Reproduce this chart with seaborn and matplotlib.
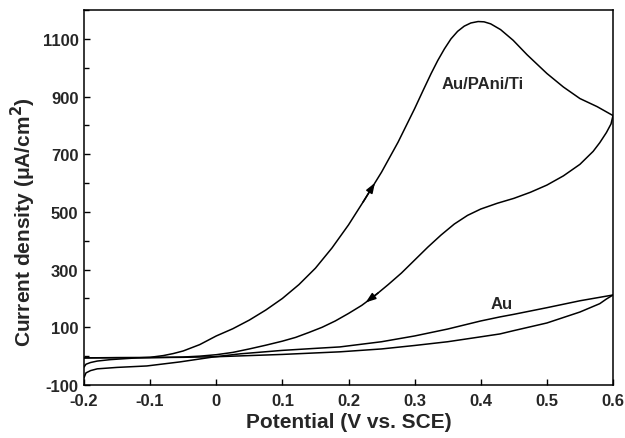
import numpy as np
import pandas as pd
import matplotlib
matplotlib.use("Agg")
import matplotlib.pyplot as plt
import seaborn as sns
from matplotlib.ticker import FixedLocator

# ---- data ----
pani_fwd_x = [-0.2, -0.197, -0.19, -0.18, -0.16, -0.14, -0.12, -0.1, -0.08, -0.065, -0.05, -0.025,
              0.0, 0.025, 0.05, 0.075, 0.1, 0.125, 0.15, 0.175, 0.2, 0.225, 0.25, 0.275, 0.3,
              0.313, 0.325, 0.335, 0.345, 0.355, 0.365, 0.375, 0.385, 0.396, 0.405, 0.415,
              0.43, 0.449, 0.47, 0.5, 0.525, 0.55, 0.576, 0.6]
pani_fwd_y = [-38, -28, -22, -17, -12, -9, -6, -4, 2, 9, 18, 40,
              70, 95, 125, 160, 200, 248, 305, 375, 455, 545, 638, 742, 858,
              922, 980, 1025, 1065, 1100, 1126, 1144, 1155, 1160, 1159, 1152,
              1132, 1095, 1045, 980, 933, 893, 865, 834]

pani_rev_x = [0.6, 0.597, 0.59, 0.58, 0.57, 0.55, 0.525, 0.5, 0.475, 0.45, 0.425, 0.4, 0.38,
              0.36, 0.34, 0.32, 0.3, 0.28, 0.26, 0.24, 0.22, 0.2, 0.18, 0.16, 0.14, 0.12,
              0.1, 0.075, 0.05, 0.025, 0.0, -0.025, -0.05, -0.1, -0.15, -0.2]
pani_rev_y = [834, 805, 775, 740, 710, 665, 625, 593, 568, 547, 530, 510, 488,
              458, 420, 378, 333, 288, 248, 210, 176, 148, 122, 100, 82, 65,
              52, 38, 25, 13, 5, 0, -3, -5, -5, -6]

au_fwd_x = [-0.2, -0.197, -0.19, -0.18, -0.15, -0.105, -0.055, -0.005, 0.036, 0.1, 0.15, 0.187,
            0.25, 0.3, 0.35, 0.4, 0.429, 0.45, 0.5, 0.55, 0.6]
au_fwd_y = [-75, -58, -50, -44, -39, -34, -20, -3, 8, 20, 27, 32,
            50, 70, 94, 122, 136, 145, 168, 192, 212]

au_rev_x = [0.6, 0.59, 0.58, 0.55, 0.5, 0.449, 0.429, 0.4, 0.35, 0.3, 0.25, 0.187, 0.1, 0.0,
            -0.05, -0.1, -0.2]
au_rev_y = [212, 198, 182, 153, 115, 88, 77, 67, 50, 37, 25, 15, 6, -2,
            -4, -5, -6]

x_ticks = [-0.2, -0.1, 0.0, 0.1, 0.2, 0.3, 0.4, 0.5, 0.6]
x_tick_labels = ["-0.2", "-0.1", "0", "0.1", "0.2", "0.3", "0.4", "0.5", "0.6"]
y_ticks = [-100, 100, 300, 500, 700, 900, 1100]
y_tick_labels = ["-100", "100", "300", "500", "700", "900", "1100"]
y_minor_ticks = [0, 200, 400, 600, 800, 1000, 1200]

arrow_fwd_x = [0.222, 0.240]
arrow_rev_x = [0.245, 0.226]

labels = ["Au/PAni/Ti", "Au"]
label_x = [0.403, 0.432]
label_y = [945, 181]

# ---- plotting ----
sns.set_theme(style="ticks")
plt.rcParams['font.family'] = ['Liberation Sans', 'DejaVu Sans']
plt.rcParams['font.weight'] = 'bold'
plt.rcParams['axes.unicode_minus'] = False

fig = plt.figure(figsize=(6.25, 4.39), dpi=100)
ax = fig.add_axes([84 / 625, 1 - 386 / 439, (613 - 84) / 625, (386 - 11) / 439])

lw = 1.1
for xs, ys in [(pani_fwd_x, pani_fwd_y), (pani_rev_x, pani_rev_y),
               (au_fwd_x, au_fwd_y), (au_rev_x, au_rev_y)]:
    sns.lineplot(x=xs, y=ys, sort=False, estimator=None, color="black",
                 linewidth=lw, ax=ax)

# direction arrows along the PAni curve
def interp_on(xs, ys, xq):
    xs = np.asarray(xs); ys = np.asarray(ys)
    order = np.argsort(xs)
    return np.interp(xq, xs[order], ys[order])

for xs, ys, ax_pts in [(pani_fwd_x, pani_fwd_y, arrow_fwd_x), (pani_rev_x, pani_rev_y, arrow_rev_x)]:
    x0, x1 = ax_pts
    ax.annotate("", xy=(x1, interp_on(xs, ys, x1)), xytext=(x0, interp_on(xs, ys, x0)),
                arrowprops=dict(arrowstyle="-|>,head_length=0.5,head_width=0.18",
                                color="black", lw=lw, shrinkA=0, shrinkB=0))

for t, lx, ly in zip(labels, label_x, label_y):
    ax.text(lx, ly, t, ha="center", va="center", fontsize=12, fontweight="bold")

ax.set_xlim(-0.2, 0.6)
ax.set_ylim(-100, 1200)
ax.xaxis.set_major_locator(FixedLocator(x_ticks))
ax.set_xticklabels(x_tick_labels)
ax.yaxis.set_major_locator(FixedLocator(y_ticks))
ax.set_yticklabels(y_tick_labels)
ax.yaxis.set_minor_locator(FixedLocator(y_minor_ticks))

ax.tick_params(axis="both", which="major", direction="in", length=4.5, width=1,
               labelsize=12, color="black")
ax.tick_params(axis="x", which="major", pad=6)
ax.tick_params(axis="y", which="major", pad=4)
ax.tick_params(axis="y", which="minor", direction="in", length=3.5, width=1, color="black")
for lab in ax.get_xticklabels() + ax.get_yticklabels():
    lab.set_fontweight("bold")

for s in ax.spines.values():
    s.set_visible(True)
    s.set_linewidth(1.1)
    s.set_color("black")

ax.set_xlabel("Potential (V vs. SCE)", fontsize=15, fontweight="bold", labelpad=3)
ax.set_ylabel("Current density (μA/cm$^\\mathbf{2}$)", fontsize=15, fontweight="bold")
ax.yaxis.set_label_coords(-0.087, 0.437)

fig.savefig("out.png", dpi=100)
